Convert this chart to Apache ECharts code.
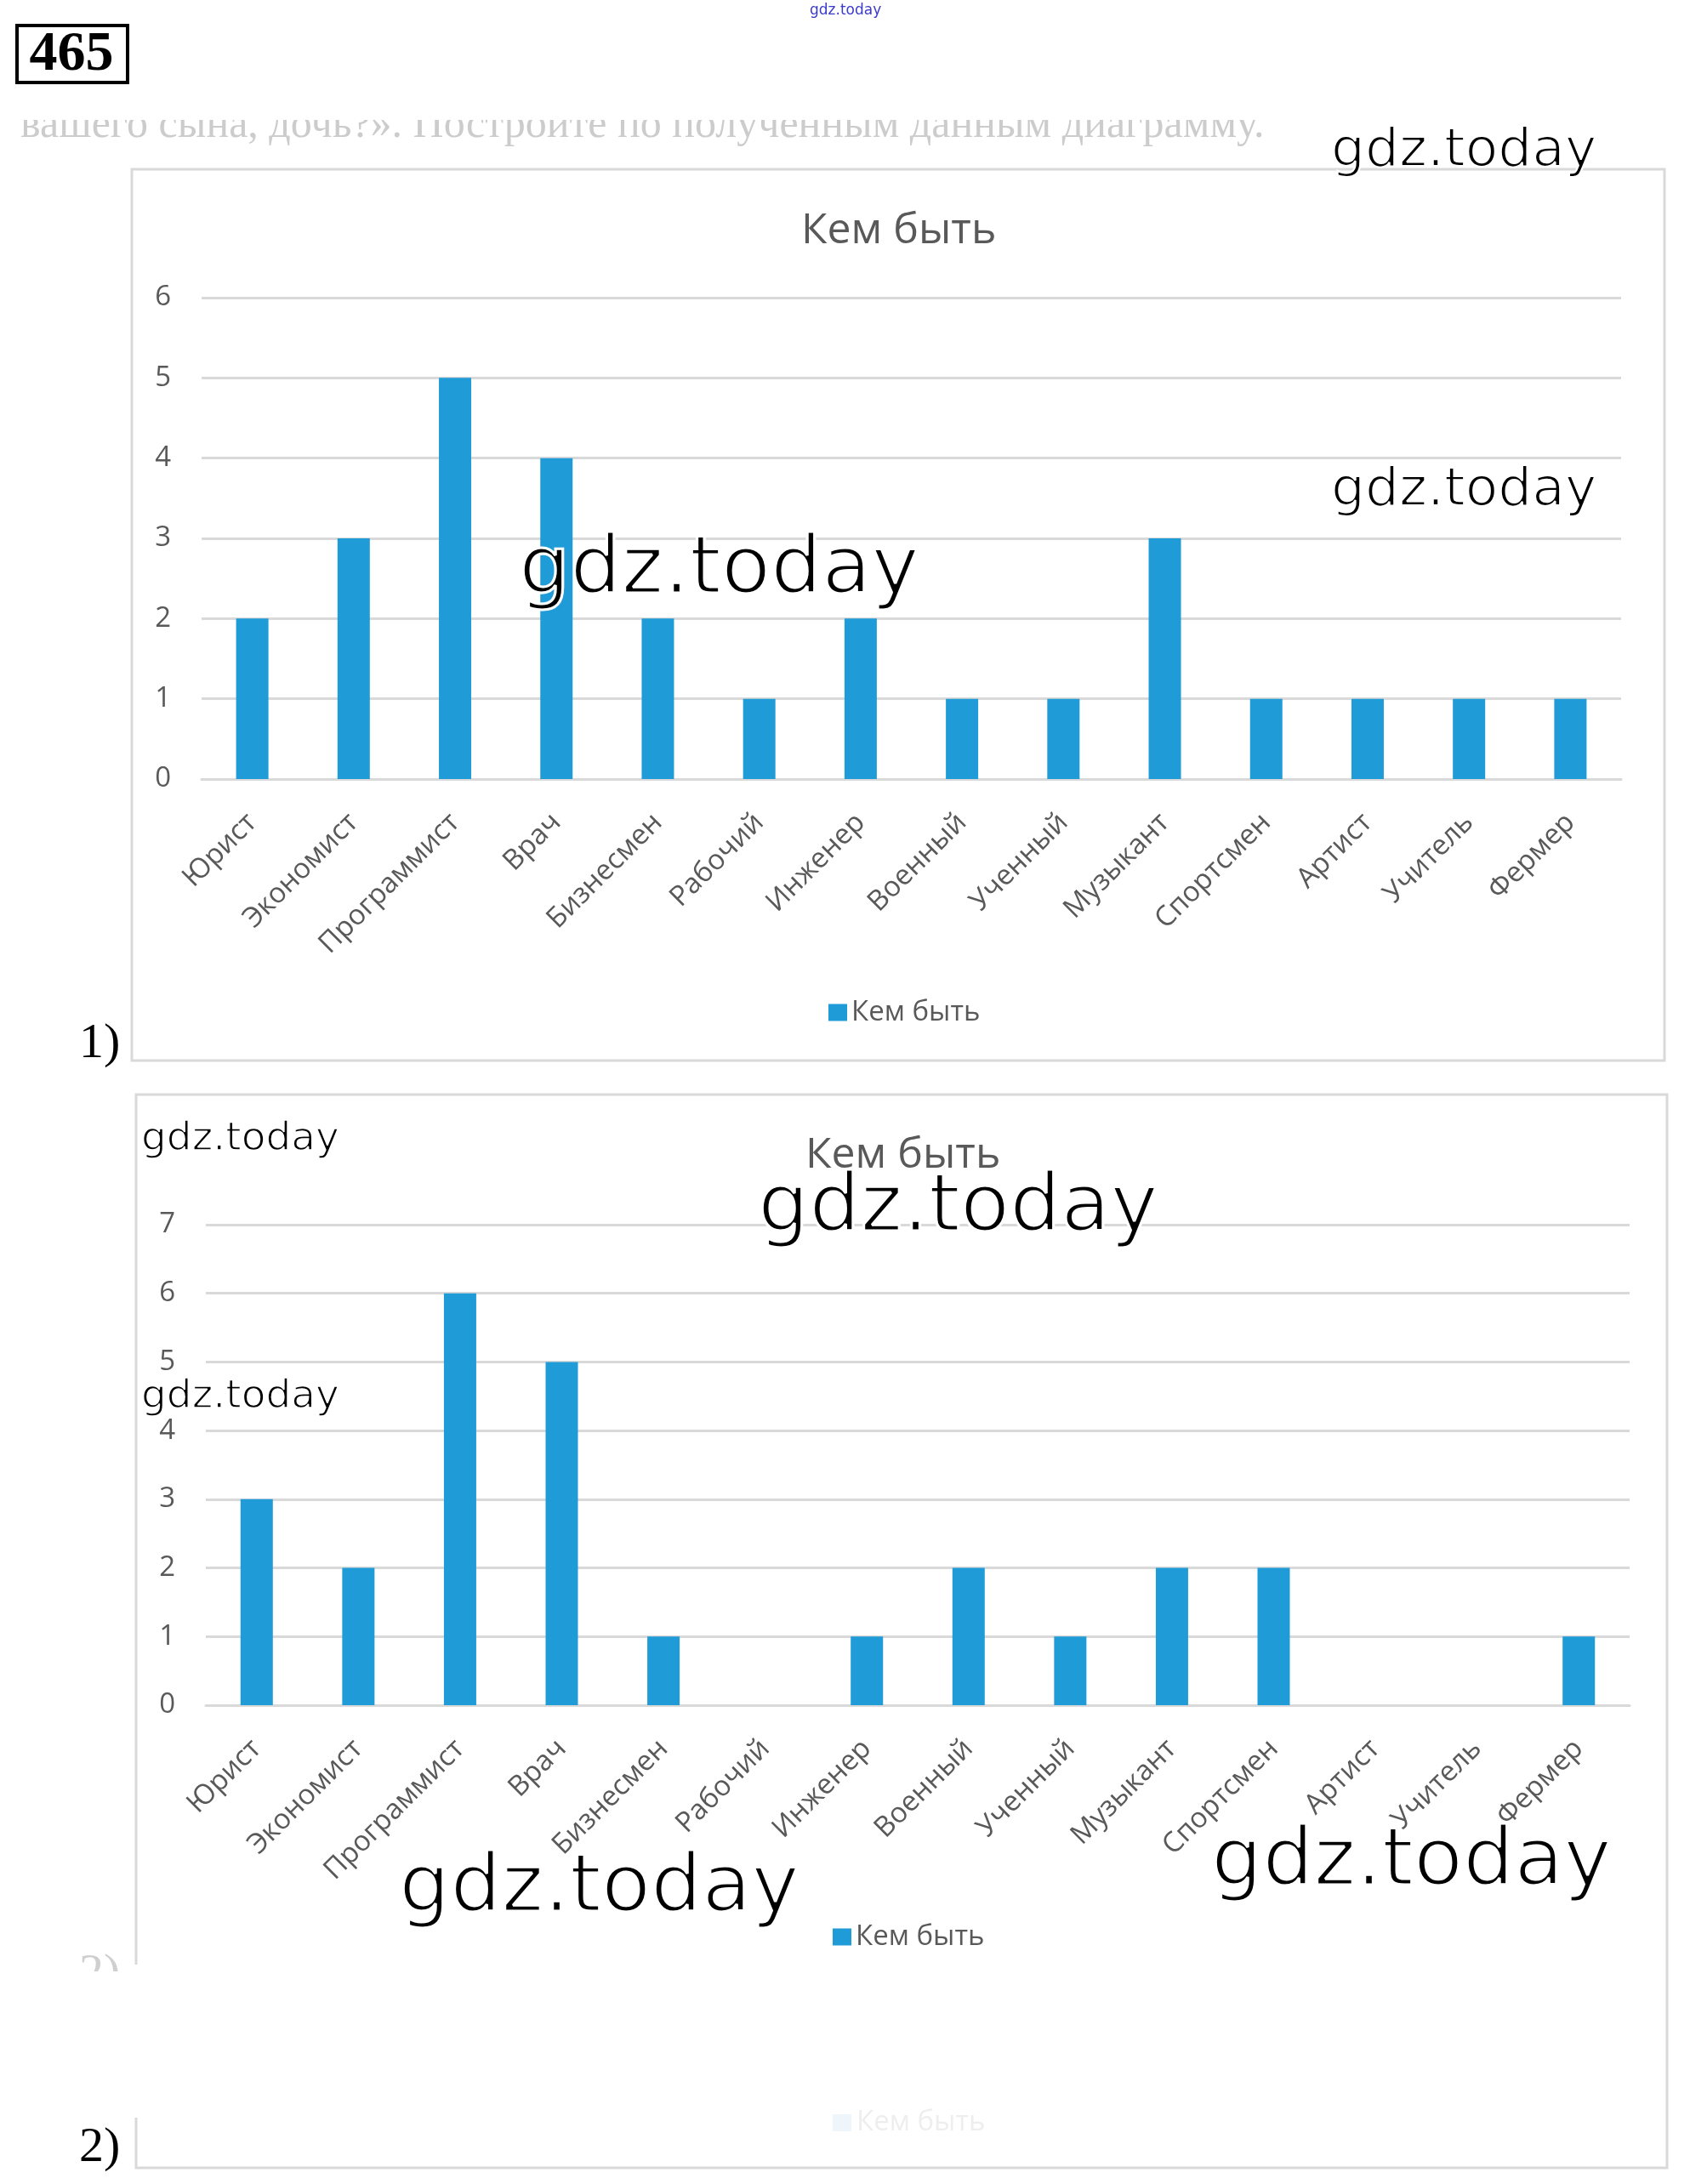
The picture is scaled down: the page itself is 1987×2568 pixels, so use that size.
<!DOCTYPE html>
<html lang="ru">
<head>
<meta charset="utf-8">
<title>465 - Кем быть</title>
<script src="https://cdn.jsdelivr.net/npm/echarts@6/dist/echarts.min.js"></script>
<style>
    html, body { margin: 0; padding: 0; background: #ffffff; }
    #chart { width: 1987px; height: 2568px; }
</style>
</head>
<body>
<div id="chart"></div>
<script>
/**
 * Exercise 465 - two "Кем быть" bar charts, one page
 */

// Categories (same for both charts)
const professions = [
    'Юрист', 'Экономист', 'Программист', 'Врач', 'Бизнесмен', 'Рабочий', 'Инженер',
    'Военный', 'Ученный', 'Музыкант', 'Спортсмен', 'Артист', 'Учитель', 'Фермер'
];

// Chart 1) values
const answers1 = [2, 3, 5, 4, 2, 1, 2, 1, 1, 3, 1, 1, 1, 1];

// Chart 2) values
const answers2 = [3, 2, 6, 5, 1, 0, 1, 2, 1, 2, 2, 0, 0, 1];

// Value axis ranges
const yMax1 = 6;
const yMax2 = 7;

const seriesName = 'Кем быть';

const BAR_COLOR = '#1f9bd7';
const GRID_COLOR = '#d9d9d9';
const TEXT_COLOR = '#595959';
const FONT = '"Open Sans", "Noto Sans", sans-serif';
const MARK_FONT = '"DejaVu Sans", sans-serif';

let chart = null;

initChart();

/**
 * Build a category x axis for one grid
 */
function makeXAxis(gridIndex) {
    return {
        type: 'category',
        gridIndex: gridIndex,
        data: professions,
        axisTick: { show: false },
        axisLine: { lineStyle: { color: GRID_COLOR, width: 3 } },
        axisLabel: {
            interval: 0,
            rotate: 45,
            margin: 46,
            color: TEXT_COLOR,
            fontFamily: FONT,
            fontSize: 33
        }
    };
}

/**
 * Build a value y axis for one grid
 */
function makeYAxis(gridIndex, max) {
    return {
        type: 'value',
        gridIndex: gridIndex,
        min: 0,
        max: max,
        interval: 1,
        axisLine: { show: false },
        axisTick: { show: false },
        splitLine: { lineStyle: { color: GRID_COLOR, width: 3 } },
        axisLabel: {
            margin: 36,
            color: TEXT_COLOR,
            fontFamily: FONT,
            fontSize: 33
        }
    };
}

/**
 * Watermark text helper: a black fill, then a white outline on top of it
 * to thin the glyphs toward the light font of the scan
 */
function watermark(x, y, size) {
    const base = {
        text: 'gdz.today',
        x: x,
        y: y,
        font: size + 'px ' + MARK_FONT,
        textVerticalAlign: 'middle'
    };
    return [
        { type: 'text', z: 100, style: Object.assign({ fill: '#000000' }, base) },
        { type: 'text', z: 101, style: Object.assign({
            fill: 'none', stroke: '#ffffff', lineWidth: size / 30 }, base) }
    ];
}

/**
 * Page decorations: frames, number box, captions, watermarks
 */
function buildGraphics() {
    return [
        // chart frames
        { type: 'rect', z: 1, shape: { x: 155, y: 199, width: 1802, height: 1048 },
          style: { fill: 'none', stroke: GRID_COLOR, lineWidth: 3 } },
        { type: 'rect', z: 1, shape: { x: 160, y: 1287, width: 1800, height: 1262 },
          style: { fill: 'none', stroke: GRID_COLOR, lineWidth: 3 } },
        { type: 'rect', z: 2, shape: { x: 150, y: 2310, width: 20, height: 180 },
          style: { fill: '#ffffff' } },

        // exercise number
        { type: 'rect', z: 5, shape: { x: 20, y: 30, width: 130, height: 67 },
          style: { fill: 'none', stroke: '#000000', lineWidth: 4 } },
        { type: 'text', z: 5, style: {
            text: '465', x: 84, y: 65, textAlign: 'center', textVerticalAlign: 'middle',
            fill: '#000000', font: 'bold 66px "Liberation Serif", serif' } },

        // faded line of the task text (top is cut off in the scan)
        { type: 'text', z: 3, style: {
            text: 'вашего сына, дочь?». Постройте по полученным данным диаграмму.',
            x: 24, y: 148, textVerticalAlign: 'middle',
            fill: '#cccccc', font: '50px "Liberation Serif", serif' } },
        { type: 'rect', z: 4, shape: { x: 0, y: 100, width: 1540, height: 41 },
          style: { fill: '#ffffff' } },

        // small blue site mark
        { type: 'text', z: 5, style: {
            text: 'gdz.today', x: 952, y: 13, textVerticalAlign: 'middle',
            fill: '#3a3acc', font: '17px ' + MARK_FONT } },

        // item labels
        { type: 'text', z: 5, style: {
            text: '1)', x: 93, y: 1228, textVerticalAlign: 'middle',
            fill: '#000000', font: '58px "Liberation Serif", serif' } },
        { type: 'text', z: 5, style: {
            text: '2)', x: 93, y: 2526, textVerticalAlign: 'middle',
            fill: '#000000', font: '58px "Liberation Serif", serif' } },
        { type: 'text', z: 3, style: {
            text: '2)', x: 93, y: 2322, textVerticalAlign: 'middle',
            fill: '#cfcfcf', font: '58px "Liberation Serif", serif' } },
        { type: 'rect', z: 4, shape: { x: 80, y: 2318, width: 70, height: 50 },
          style: { fill: '#ffffff' } },

        // ghost legend at the bottom of chart 2
        { type: 'rect', z: 3, shape: { x: 979, y: 2486, width: 22, height: 20 },
          style: { fill: '#eef6fb' } },
        { type: 'text', z: 3, style: {
            text: 'Кем быть', x: 1007, y: 2496, textVerticalAlign: 'middle',
            fill: '#eeeeee', font: '33px ' + FONT } }
    ].concat(
        // watermarks
        watermark(1565, 179, 63),
        watermark(1565, 578, 63),
        watermark(610, 672, 95),
        watermark(166, 1340, 47),
        watermark(166, 1643, 47),
        watermark(891, 1422, 95),
        watermark(469, 2222, 95),
        watermark(1424, 2191, 95)
    );
}

/**
 * Initialize ECharts instance
 */
function initChart() {
    const container = document.getElementById('chart');
    if (!container) {
        console.error('[465] Chart container not found');
        return;
    }

    chart = echarts.init(container, null, { renderer: 'canvas' });

    const titleStyle = {
        color: TEXT_COLOR,
        fontFamily: FONT,
        fontSize: 50,
        fontWeight: 'normal'
    };
    const legendStyle = {
        color: TEXT_COLOR,
        fontFamily: FONT,
        fontSize: 33
    };

    const option = {
        backgroundColor: '#ffffff',
        animation: false,
        title: [
            { text: seriesName, left: 942, top: 247, padding: 0, textStyle: titleStyle },
            { text: seriesName, left: 947, top: 1334, padding: 0, textStyle: titleStyle }
        ],
        legend: [
            {
                data: [seriesName], left: 974, top: 1174, padding: 0,
                icon: 'rect', itemWidth: 22, itemHeight: 20, itemGap: 6,
                textStyle: legendStyle
            },
            {
                data: [seriesName], left: 979, top: 2261, padding: 0,
                icon: 'rect', itemWidth: 22, itemHeight: 20, itemGap: 6,
                textStyle: legendStyle
            }
        ],
        grid: [
            { left: 237, top: 350, width: 1669, height: 566 },
            { left: 242, top: 1440, width: 1674, height: 565 }
        ],
        xAxis: [makeXAxis(0), makeXAxis(1)],
        yAxis: [makeYAxis(0, yMax1), makeYAxis(1, yMax2)],
        series: [
            {
                name: seriesName,
                type: 'bar',
                xAxisIndex: 0,
                yAxisIndex: 0,
                data: answers1,
                barWidth: 38,
                itemStyle: { color: BAR_COLOR }
            },
            {
                name: seriesName,
                type: 'bar',
                xAxisIndex: 1,
                yAxisIndex: 1,
                data: answers2,
                barWidth: 38,
                itemStyle: { color: BAR_COLOR }
            }
        ],
        graphic: { elements: buildGraphics() }
    };

    chart.setOption(option);
    console.log('[465] Chart initialized');
}
</script>
</body>
</html>
